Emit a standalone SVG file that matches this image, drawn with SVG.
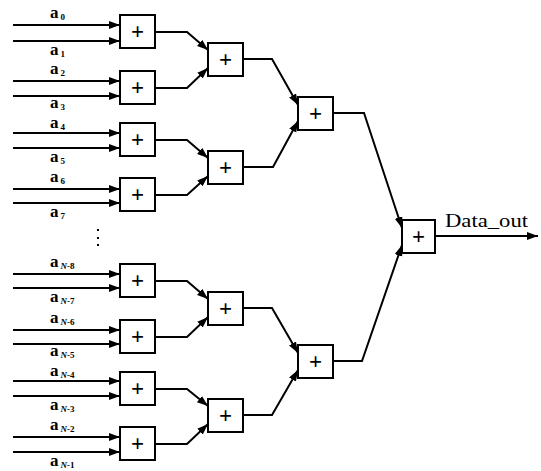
<svg xmlns="http://www.w3.org/2000/svg" width="541" height="471" viewBox="0 0 541 471">
<style>
.box{fill:#fff;stroke:#000;stroke-width:2}
.plus{font-family:"Liberation Serif",serif;font-size:23px;font-weight:bold;text-anchor:middle}
.w{fill:none;stroke:#000;stroke-width:2}
.lbl{font-family:"Liberation Serif",serif;font-size:17px;font-weight:bold}
.sub{font-size:9px}
.out{font-family:"Liberation Serif",serif;font-size:18px}
</style>
<defs>
<marker id="ah" markerUnits="userSpaceOnUse" markerWidth="12" markerHeight="10" refX="11" refY="4" orient="auto">
<path d="M0,0 L11,4 L0,8 Z" fill="#000"/>
</marker>
</defs>
<rect width="541" height="471" fill="#fff"/>
<g id="connectors" class="w" marker-end="url(#ah)">
<path d="M13,25H120"/><path d="M13,41H120"/>
<path d="M13,81H120"/><path d="M13,96H120"/>
<path d="M13,133H120"/><path d="M13,148H120"/>
<path d="M13,189H120"/><path d="M13,203H120"/>
<path d="M13,274H120"/><path d="M13,288H120"/>
<path d="M13,330H120"/><path d="M13,344H120"/>
<path d="M13,381H120"/><path d="M13,396H120"/>
<path d="M13,437H120"/><path d="M13,452H120"/>
<path d="M155,32H187L208,50"/><path d="M155,88H187L208,68"/>
<path d="M155,140H187L208,158"/><path d="M155,195H187L208,176"/>
<path d="M155,281H187L208,299"/><path d="M155,337H187L208,317"/>
<path d="M155,389H187L208,406"/><path d="M155,444H187L208,424"/>
<path d="M243,59H272L298,105"/><path d="M243,167H273L298,121"/>
<path d="M243,308H272L298,353"/><path d="M243,415H272L298,370"/>
<path d="M333,113H364L402,228"/><path d="M333,361H362L402,245"/>
<path d="M435,236H538"/>
</g>
<g id="l1_0"><rect class="box" x="120" y="15" width="35" height="33"/><text class="plus" x="137.5" y="39">+</text></g>
<g id="l1_1"><rect class="box" x="120" y="71" width="35" height="33"/><text class="plus" x="137.5" y="95">+</text></g>
<g id="l1_2"><rect class="box" x="120" y="123" width="35" height="33"/><text class="plus" x="137.5" y="147">+</text></g>
<g id="l1_3"><rect class="box" x="120" y="178" width="35" height="33"/><text class="plus" x="137.5" y="202">+</text></g>
<g id="l1_4"><rect class="box" x="120" y="264" width="35" height="33"/><text class="plus" x="137.5" y="288">+</text></g>
<g id="l1_5"><rect class="box" x="120" y="320" width="35" height="33"/><text class="plus" x="137.5" y="344">+</text></g>
<g id="l1_6"><rect class="box" x="120" y="372" width="35" height="33"/><text class="plus" x="137.5" y="396">+</text></g>
<g id="l1_7"><rect class="box" x="120" y="427" width="35" height="33"/><text class="plus" x="137.5" y="451">+</text></g>
<g id="l2_0"><rect class="box" x="208" y="43" width="35" height="33"/><text class="plus" x="225.5" y="67">+</text></g>
<g id="l2_1"><rect class="box" x="208" y="151" width="35" height="33"/><text class="plus" x="225.5" y="175">+</text></g>
<g id="l2_2"><rect class="box" x="208" y="292" width="35" height="33"/><text class="plus" x="225.5" y="316">+</text></g>
<g id="l2_3"><rect class="box" x="208" y="399" width="35" height="33"/><text class="plus" x="225.5" y="423">+</text></g>
<g id="l3_0"><rect class="box" x="298" y="97" width="35" height="33"/><text class="plus" x="315.5" y="121">+</text></g>
<g id="l3_1"><rect class="box" x="298" y="345" width="35" height="33"/><text class="plus" x="315.5" y="369">+</text></g>
<g id="final"><rect class="box" x="402" y="220" width="33" height="33"/><text class="plus" x="418.5" y="244">+</text></g>
<g id="labels" class="lbl">
<text x="50" y="18">a<tspan class="sub" dx="2" dy="2">0</tspan></text>
<text x="50" y="55">a<tspan class="sub" dx="2" dy="2">1</tspan></text>
<text x="50" y="74">a<tspan class="sub" dx="2" dy="2">2</tspan></text>
<text x="50" y="108">a<tspan class="sub" dx="2" dy="2">3</tspan></text>
<text x="50" y="128">a<tspan class="sub" dx="2" dy="2">4</tspan></text>
<text x="50" y="162">a<tspan class="sub" dx="2" dy="2">5</tspan></text>
<text x="50" y="182">a<tspan class="sub" dx="2" dy="2">6</tspan></text>
<text x="50" y="217">a<tspan class="sub" dx="2" dy="2">7</tspan></text>
<text x="50" y="267">a<tspan class="sub" dx="2" dy="2"><tspan font-style="italic">N</tspan>-8</tspan></text>
<text x="50" y="302">a<tspan class="sub" dx="2" dy="2"><tspan font-style="italic">N</tspan>-7</tspan></text>
<text x="50" y="323">a<tspan class="sub" dx="2" dy="2"><tspan font-style="italic">N</tspan>-6</tspan></text>
<text x="50" y="356">a<tspan class="sub" dx="2" dy="2"><tspan font-style="italic">N</tspan>-5</tspan></text>
<text x="50" y="376">a<tspan class="sub" dx="2" dy="2"><tspan font-style="italic">N</tspan>-4</tspan></text>
<text x="50" y="410">a<tspan class="sub" dx="2" dy="2"><tspan font-style="italic">N</tspan>-3</tspan></text>
<text x="50" y="430">a<tspan class="sub" dx="2" dy="2"><tspan font-style="italic">N</tspan>-2</tspan></text>
<text x="50" y="466">a<tspan class="sub" dx="2" dy="2"><tspan font-style="italic">N</tspan>-1</tspan></text>
</g>
<g id="dots" fill="#000"><rect x="97" y="229" width="2" height="2"/><rect x="97" y="237" width="2" height="2"/><rect x="97" y="244" width="2" height="2"/></g>
<text class="out" x="445" y="227" textLength="83" lengthAdjust="spacingAndGlyphs">Data_out</text>
</svg>
